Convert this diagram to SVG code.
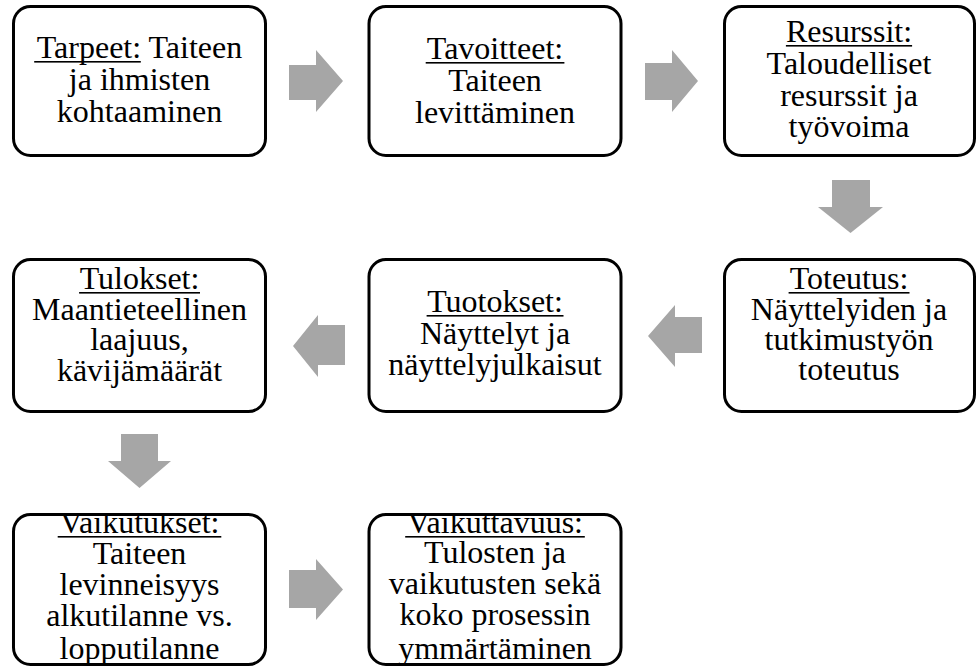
<svg xmlns="http://www.w3.org/2000/svg" width="976" height="669" viewBox="0 0 976 669">
<style>
text{font-family:'Times New Roman','Liberation Serif',serif;font-size:32px;text-anchor:middle;fill:#000}
.box{fill:#fff;stroke:#000;stroke-width:3}
.ul{fill:#000}
.mask{fill:#fff}
</style>
<rect width="976" height="669" fill="#fff"/>
<g id="n1">
<rect class="box" x="13.5" y="6.5" width="252" height="149" rx="17"/>
<text x="139.5" y="58" font-family="Times New Roman, Liberation Serif, serif">Tarpeet: Taiteen</text>
<rect class="ul" x="34.2" y="61" width="106.6" height="1.6"/>
<text x="139.5" y="90" font-family="Times New Roman, Liberation Serif, serif">ja ihmisten</text>
<text x="139.5" y="122" font-family="Times New Roman, Liberation Serif, serif">kohtaaminen</text>
</g>
<g id="n2">
<rect class="box" x="369" y="6.5" width="252" height="149" rx="17"/>
<text x="495" y="59" font-family="Times New Roman, Liberation Serif, serif">Tavoitteet:</text>
<rect class="ul" x="425.7" y="62" width="138.7" height="1.6"/>
<text x="495" y="91" font-family="Times New Roman, Liberation Serif, serif">Taiteen</text>
<text x="495" y="123" font-family="Times New Roman, Liberation Serif, serif">levittäminen</text>
</g>
<g id="n3">
<rect class="box" x="724.5" y="6.5" width="250" height="149" rx="17"/>
<text x="849" y="42" font-family="Times New Roman, Liberation Serif, serif">Resurssit:</text>
<rect class="ul" x="785.9" y="45" width="126.2" height="1.6"/>
<text x="849" y="74" font-family="Times New Roman, Liberation Serif, serif">Taloudelliset</text>
<text x="849" y="106" font-family="Times New Roman, Liberation Serif, serif">resurssit ja</text>
<text x="849" y="137" font-family="Times New Roman, Liberation Serif, serif">työvoima</text>
</g>
<g id="n4">
<rect class="box" x="724.5" y="259.5" width="250" height="152" rx="17"/>
<text x="849" y="289" font-family="Times New Roman, Liberation Serif, serif">Toteutus:</text>
<rect class="ul" x="788.6" y="292" width="120.9" height="1.6"/>
<text x="849" y="320" font-family="Times New Roman, Liberation Serif, serif">Näyttelyiden ja</text>
<text x="849" y="350" font-family="Times New Roman, Liberation Serif, serif">tutkimustyön</text>
<text x="849" y="380" font-family="Times New Roman, Liberation Serif, serif">toteutus</text>
</g>
<g id="n5">
<rect class="box" x="369" y="259.5" width="252" height="152" rx="17"/>
<text x="495" y="312" font-family="Times New Roman, Liberation Serif, serif">Tuotokset:</text>
<rect class="ul" x="426.6" y="315" width="136.9" height="1.6"/>
<text x="495" y="344" font-family="Times New Roman, Liberation Serif, serif">Näyttelyt ja</text>
<text x="495" y="375" font-family="Times New Roman, Liberation Serif, serif">näyttelyjulkaisut</text>
</g>
<g id="n6">
<rect class="box" x="13.5" y="259.5" width="252" height="152" rx="17"/>
<text x="139.5" y="289" font-family="Times New Roman, Liberation Serif, serif">Tulokset:</text>
<rect class="ul" x="79.1" y="292" width="120.9" height="1.6"/>
<text x="139.5" y="320" font-family="Times New Roman, Liberation Serif, serif">Maantieteellinen</text>
<text x="139.5" y="350" font-family="Times New Roman, Liberation Serif, serif">laajuus,</text>
<text x="139.5" y="381" font-family="Times New Roman, Liberation Serif, serif">kävijämäärät</text>
</g>
<g id="n7">
<rect x="13.5" y="514.5" width="252" height="150" rx="17" fill="#fff"/>
<text x="139.5" y="533" font-family="Times New Roman, Liberation Serif, serif">Vaikutukset:</text>
<rect class="ul" x="57.7" y="536" width="163.6" height="1.6"/>
<text x="139.5" y="564" font-family="Times New Roman, Liberation Serif, serif">Taiteen</text>
<text x="139.5" y="595" font-family="Times New Roman, Liberation Serif, serif">levinneisyys</text>
<text x="139.5" y="626" font-family="Times New Roman, Liberation Serif, serif">alkutilanne vs.</text>
<text x="139.5" y="659" font-family="Times New Roman, Liberation Serif, serif">lopputilanne</text>
<rect class="mask" x="12" y="500" width="256" height="14.5"/>
<rect class="mask" x="12" y="664.5" width="256" height="5"/>
<rect x="13.5" y="514.5" width="252" height="150" rx="17" fill="none" stroke="#000" stroke-width="3"/>
</g>
<g id="n8">
<rect x="369" y="514.5" width="252" height="150" rx="17" fill="#fff"/>
<text x="495" y="533" font-family="Times New Roman, Liberation Serif, serif">Vaikuttavuus:</text>
<rect class="ul" x="405.2" y="536" width="179.6" height="1.6"/>
<text x="495" y="563" font-family="Times New Roman, Liberation Serif, serif">Tulosten ja</text>
<text x="495" y="594" font-family="Times New Roman, Liberation Serif, serif">vaikutusten sekä</text>
<text x="495" y="625" font-family="Times New Roman, Liberation Serif, serif">koko prosessin</text>
<text x="495" y="659" font-family="Times New Roman, Liberation Serif, serif">ymmärtäminen</text>
<rect class="mask" x="367.5" y="500" width="256" height="14.5"/>
<rect class="mask" x="367.5" y="664.5" width="256" height="5"/>
<rect x="369" y="514.5" width="252" height="150" rx="17" fill="none" stroke="#000" stroke-width="3"/>
</g>
<g id="connectors" fill="#a6a6a6">
<polygon points="289,65 316,65 316,50 343,81 316,112 316,100 289,100"/>
<polygon points="645,63 672,63 672,50 698,81 672,112 672,100 645,100"/>
<polygon points="832,180 870,180 870,207 883,207 850.5,233 818,207 832,207"/>
<polygon points="702,317 675,317 675,305 648,336 675,367 675,353 702,353"/>
<polygon points="345,325 318,325 318,315 293,346 318,377 318,365 345,365"/>
<polygon points="121,434 158,434 158,461 171,461 139.5,488 108,461 121,461"/>
<polygon points="289,570 316,570 316,559 343,589.5 316,620 316,608 289,608"/>
</g>
</svg>
